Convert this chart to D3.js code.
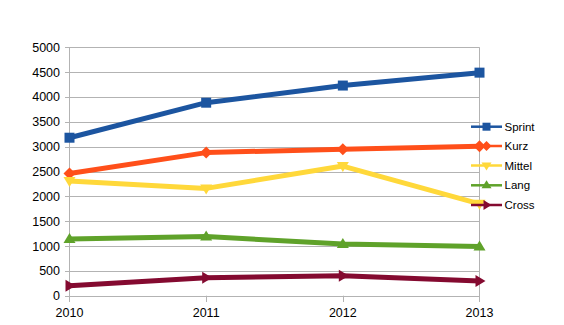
<!DOCTYPE html>
<html><head><meta charset="utf-8">
<script src="https://cdn.jsdelivr.net/npm/d3@7"></script>
<style>body{margin:0;background:#fff;}svg{display:block;font-family:"Liberation Sans",Arial,sans-serif;}</style>
</head><body>
<svg id="c" width="564" height="325"></svg>
<script>
const years = ["2010","2011","2012","2013"];
const seriesNames = ["Sprint","Kurz","Mittel","Lang","Cross"];
const sprint = [3180, 3885, 4230, 4490];
const kurz = [2460, 2880, 2950, 3010];
const mittel = [2310, 2160, 2610, 1850];
const lang = [1140, 1190, 1040, 990];
const cross = [200, 360, 400, 295];
const yTicks = [0,500,1000,1500,2000,2500,3000,3500,4000,4500,5000];
const colors = ["#1c55a0","#ff4f1a","#ffd83a","#5fa22a","#840a30"];
const markers = ["square","diamond","down","up","right"];

const values = [sprint, kurz, mittel, lang, cross];
const svg = d3.select("#c");
const x = d3.scalePoint().domain(years).range([69.5, 479.5]);
const y = d3.scaleLinear().domain([0,5000]).range([295.7, 47.3]);

// grid
svg.append("g").selectAll("line").data(yTicks).join("line")
  .attr("x1", 65).attr("x2", 479.5)
  .attr("y1", d => Math.round(y(d))+0.5).attr("y2", d => Math.round(y(d))+0.5)
  .attr("stroke", "#b3b3b3").attr("stroke-width", 1);
// vertical axis lines
svg.append("line").attr("x1",69.5).attr("x2",69.5).attr("y1",y(5000)).attr("y2",302).attr("stroke","#b3b3b3");
svg.append("line").attr("x1",479.5).attr("x2",479.5).attr("y1",y(5000)).attr("y2",302).attr("stroke","#b3b3b3");
svg.append("g").selectAll("line").data(years.slice(1,3)).join("line")
  .attr("x1", d => Math.round(x(d))+0.5).attr("x2", d => Math.round(x(d))+0.5)
  .attr("y1", y(0)).attr("y2", 302).attr("stroke","#b3b3b3");

// y labels
svg.append("g").selectAll("text").data(yTicks).join("text")
  .attr("x", 60).attr("y", d => y(d)+4.5).attr("text-anchor","end")
  .attr("font-size", 12.5).attr("fill","#000").text(d => d);
// x labels
svg.append("g").selectAll("text").data(years).join("text")
  .attr("x", d => x(d)).attr("y", 317).attr("text-anchor","middle")
  .attr("font-size", 12.5).attr("fill","#000").text(d => d);

function markerPath(type, s) {
  const h = s/2;
  switch(type){
    case "square": return `M${-h},${-h}H${h}V${h}H${-h}Z`;
    case "diamond": return `M0,${-h-1}L${h+1},0L0,${h+1}L${-h-1},0Z`;
    case "down": return `M${-h-1},${-h+1}L${h+1},${-h+1}L0,${h+1}Z`;
    case "up": return `M${-h-1},${h-1}L${h+1},${h-1}L0,${-h-1}Z`;
    case "right": return `M${-h+1},${-h-1}L${-h+1},${h+1}L${h+1},0Z`;
  }
}

const line = d3.line().x((d,i) => x(years[i])).y(d => y(d));
seriesNames.forEach((name, si) => {
  const g = svg.append("g");
  g.append("path").attr("d", line(values[si])).attr("fill","none")
    .attr("stroke", colors[si]).attr("stroke-width", 5).attr("stroke-linejoin","round");
  g.selectAll("path.m").data(values[si]).join("path").attr("class","m")
    .attr("transform", (d,i) => `translate(${x(years[i])},${y(d)})`)
    .attr("d", markerPath(markers[si], 10)).attr("fill", colors[si]);
});

// legend
const legY = [126.7, 146, 165.5, 185.3, 205];
const leg = svg.append("g");
seriesNames.forEach((name, si) => {
  const ly = legY[si];
  leg.append("line").attr("x1",471).attr("x2",502).attr("y1",ly).attr("y2",ly)
    .attr("stroke",colors[si]).attr("stroke-width",2.5);
  leg.append("path").attr("transform",`translate(486.5,${ly})`)
    .attr("d", markerPath(markers[si], 8)).attr("fill",colors[si]);
  leg.append("text").attr("x",504.5).attr("y",ly+4).attr("font-size",11.5)
    .attr("fill","#000").text(name);
});
</script>
</body></html>
